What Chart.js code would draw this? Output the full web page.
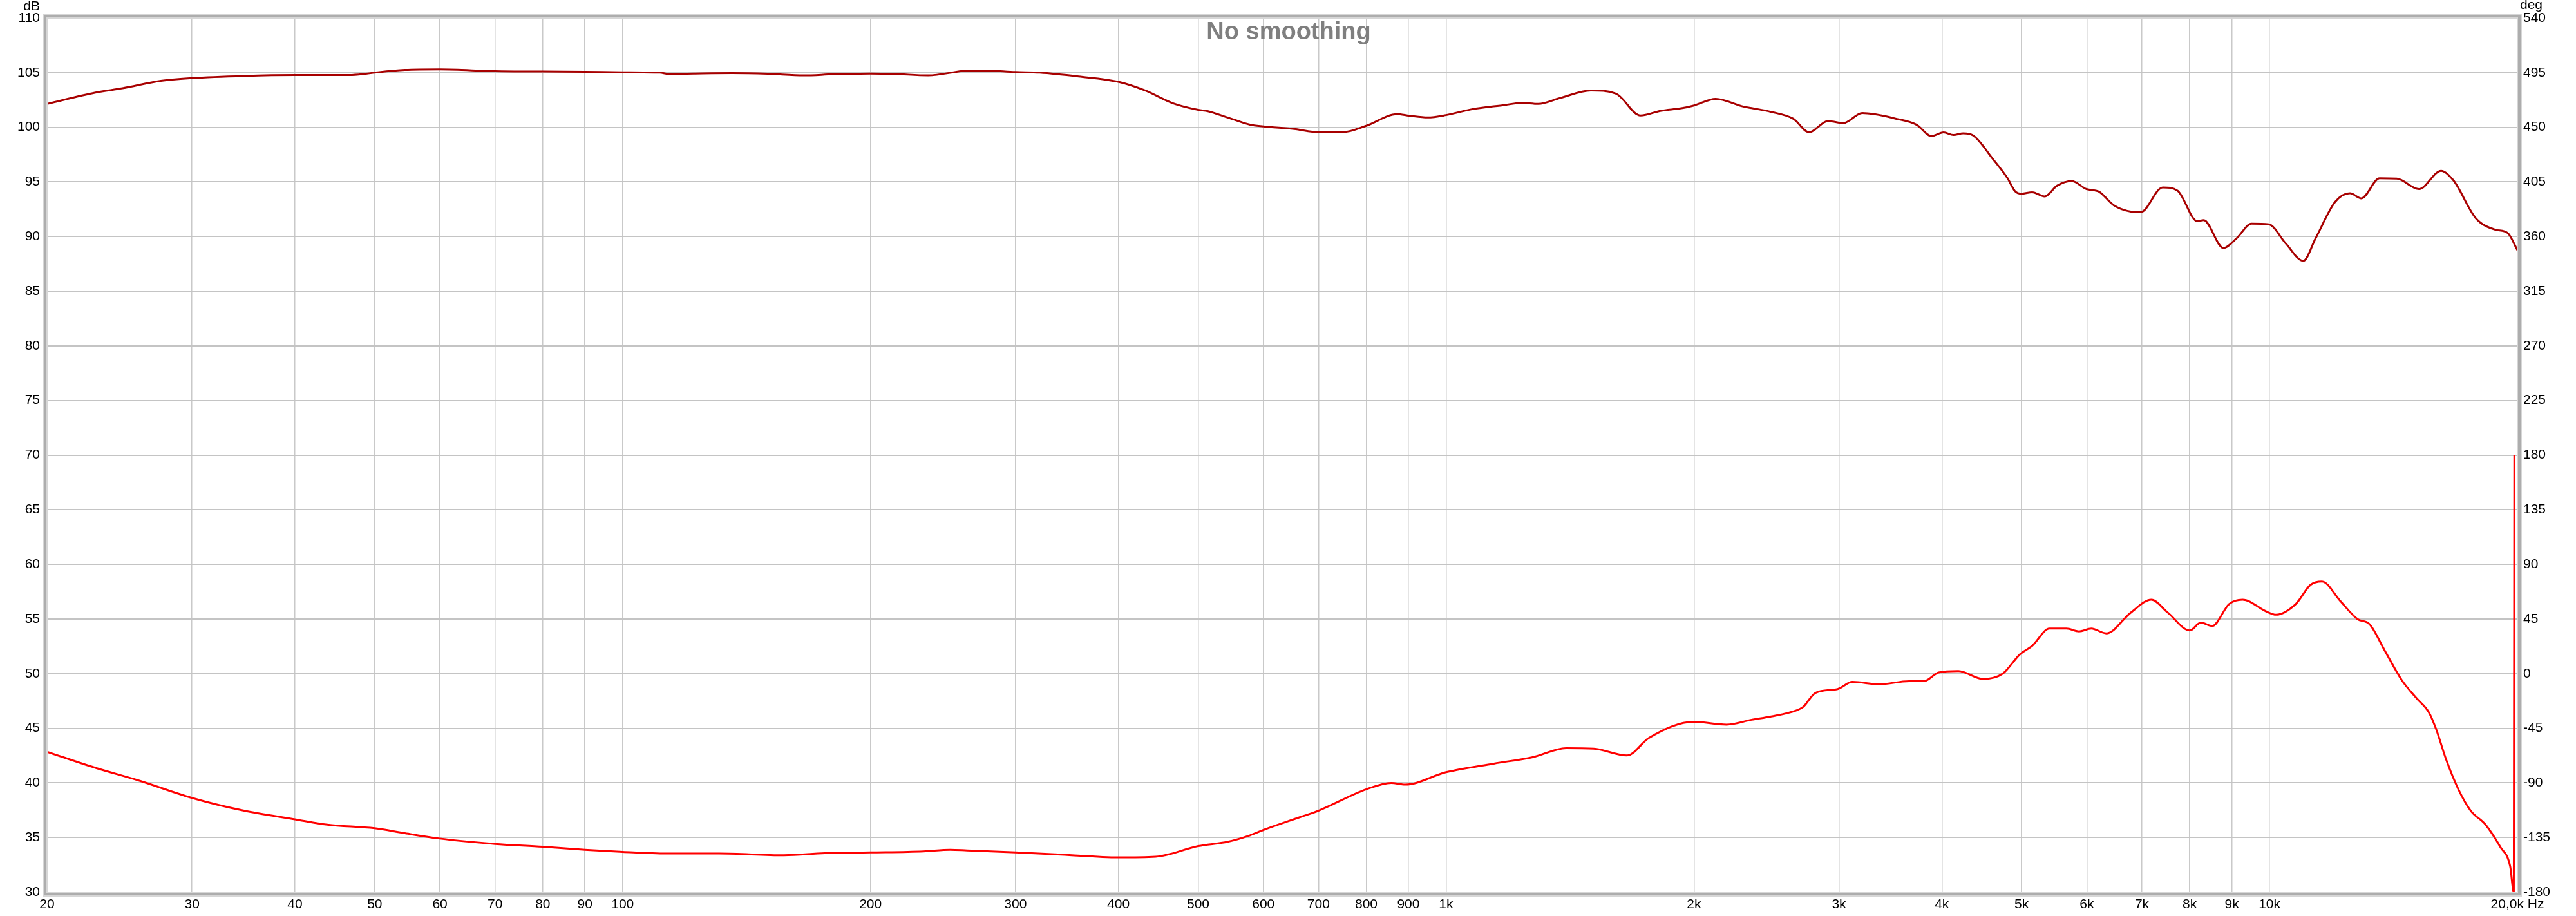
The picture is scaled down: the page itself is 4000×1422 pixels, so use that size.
<!DOCTYPE html>
<html>
<head>
<meta charset="utf-8">
<script src="https://cdn.jsdelivr.net/npm/chart.js@4/dist/chart.umd.min.js"></script>
<style>
html,body{margin:0;padding:0;background:#fff;}
#wrap{width:4000px;height:1422px;}
</style>
</head>
<body>
<div id="wrap"><canvas id="c" width="4000" height="1422"></canvas></div>
<script>
const chartTitle = "No smoothing";
const leftUnit = "dB";
const rightUnit = "deg";

const magFreq = [20,22.9,24.7,27.5,30,34.7,40,46.6,48.8,50,54.4,60,70,80,90,100,111,113.6,122,135.8,150,166,180,200,214,235,262,275,300,321,358,400,431,466,500,514,543,578,600,654,700,752,800,872,902,950,1000,1075,1179,1235,1294,1377,1499,1608,1723,1820,1936,2001,2125,2296,2350,2482,2641,2760,2908,3039,3202,3314,3503,3727,3884,4020,4133,4247,4366,4614,4808,4908,5000,5150,5332,5520,5752,5994,6204,6466,6786,6976,7420,7732,8172,8318,8790,9122,9508,9978,10470,10990,11376,12018,12524,12926,13604,14276,15188,16160,16726,17796,18804,19460,20000];
const magDb = [102.14,103.18,103.57,104.25,104.5,104.7,104.78,104.78,104.9,105.0,105.25,105.3,105.14,105.1,105.08,105.04,105.0,104.88,104.92,104.96,104.9,104.75,104.85,104.92,104.88,104.75,105.18,105.2,105.06,105.0,104.65,104.16,103.37,102.2,101.6,101.47,100.9,100.24,100.08,99.84,99.55,99.57,100.14,101.2,101.06,100.9,101.12,101.65,102.04,102.24,102.14,102.69,103.37,103.08,101.08,101.5,101.76,102.0,102.6,101.9,101.76,101.41,100.78,99.55,100.57,100.39,101.31,101.2,100.82,100.24,99.2,99.53,99.3,99.45,99.25,97.1,95.33,94.16,93.92,94.06,93.67,94.65,95.08,94.35,94.12,92.88,92.29,92.24,94.5,94.2,91.41,91.5,88.96,89.84,91.18,91.12,89.35,87.78,89.84,93.18,93.96,93.5,95.33,95.3,94.35,96.02,95.14,91.7,90.63,90.33,88.76];

const phaseFreq = [20,22.9,25.9,30,34.7,40,43.8,50,54.4,60,70,80,90,100,113,131,157,176,200,232,250,262,300,341,400,444,500,543,578,600,665,700,800,858,892,1000,1143,1274,1399,1511,1659,1764,2001,2191,2350,2482,2660,2715,2810,2989,3115,3361,3650,3806,3964,4189,4488,4743,4976,5150,5406,5671,5870,6076,6335,6786,7187,7523,8004,8251,8516,8935,9274,9909,10185,10765,11218,11580,12183,12785,13232,13792,14473,15083,15612,15938,16384,16958,17552,18297,19071,19601,19800,19830];
const phaseDeg = [-64.4,-77.6,-88.2,-102.4,-112.9,-120,-124.4,-127.4,-131.5,-135.9,-140.3,-142.6,-145.1,-146.8,-148.2,-148.2,-149.6,-147.9,-147.3,-146.4,-145.1,-145.6,-147.3,-149.1,-151.4,-150.8,-142.1,-138.5,-133.2,-128.8,-118.2,-112.9,-95.3,-90,-91.4,-81.2,-74.1,-68.8,-61.4,-61.8,-67.4,-52.9,-39.7,-42,-38,-35.3,-30.4,-27.4,-15.8,-12.7,-6.8,-8.8,-6.2,-6.2,0.9,2.1,-4.4,0,15.9,22.9,37.1,37.1,34.8,37.1,33.2,50.3,60.9,50.3,35.6,42,39.2,57.4,60.9,51.2,48.5,57.4,73.2,75.9,60,45,40.6,19.4,-5.3,-20.2,-31.8,-45.9,-70.6,-95.3,-112.9,-124.4,-142.9,-158.8,-180,180];

const xTickValues = [20,30,40,50,60,70,80,90,100,200,300,400,500,600,700,800,900,1000,2000,3000,4000,5000,6000,7000,8000,9000,10000,20000];
const xTickLabels = ["20","30","40","50","60","70","80","90","100","200","300","400","500","600","700","800","900","1k","2k","3k","4k","5k","6k","7k","8k","9k","10k","20,0k Hz"];

const dbMin = 30, dbMax = 110, dbStep = 5;
const degMin = -180, degMax = 540, degStep = 45;

const FONT = "'Liberation Sans', Arial, sans-serif";
const TICK_SIZE = 21;

const magData = magFreq.map((f, i) => ({x: f, y: magDb[i]}));
const phaseData = phaseFreq.map((f, i) => ({x: f, y: phaseDeg[i]}));

const decorPlugin = {
  id: 'decor',
  beforeDraw(chart) {
    const ctx = chart.ctx;
    ctx.save();
    ctx.fillStyle = '#ffffff';
    ctx.fillRect(0, 0, chart.width, chart.height);
    ctx.restore();
  },
  afterDraw(chart) {
    const ctx = chart.ctx;
    const a = chart.chartArea;
    ctx.save();
    ctx.strokeStyle = '#d6d6d6';
    ctx.lineWidth = 8;
    ctx.strokeRect(a.left - 3, a.top - 3, a.right - a.left + 6, a.bottom - a.top + 6);
    ctx.strokeStyle = '#adadad';
    ctx.lineWidth = 4;
    ctx.strokeRect(a.left - 3, a.top - 3, a.right - a.left + 6, a.bottom - a.top + 6);
    ctx.fillStyle = '#7f7f7f';
    ctx.font = "bold 38px " + FONT;
    ctx.textAlign = 'center';
    ctx.textBaseline = 'alphabetic';
    ctx.fillText(chartTitle, 2001, 61);
    ctx.fillStyle = '#000';
    ctx.font = TICK_SIZE + "px " + FONT;
    ctx.textAlign = 'right';
    ctx.fillText(leftUnit, 62, 16);
    ctx.textAlign = 'left';
    ctx.fillText(rightUnit, 3913, 14);
    ctx.restore();
  }
};

new Chart(document.getElementById('c'), {
  type: 'line',
  data: {
    datasets: [
      {label: 'Magnitude', data: magData, yAxisID: 'y', borderColor: '#a80000', borderWidth: 3, pointRadius: 0, cubicInterpolationMode: 'monotone', fill: false},
      {label: 'Phase', data: phaseData, yAxisID: 'y1', borderColor: '#ff0000', borderWidth: 3, pointRadius: 0, cubicInterpolationMode: 'monotone', fill: false}
    ]
  },
  options: {
    responsive: false,
    animation: false,
    layout: {padding: {top: 28, left: 0, right: 0, bottom: 0}},
    plugins: {legend: {display: false}, tooltip: {enabled: false}, title: {display: false}},
    scales: {
      x: {
        type: 'logarithmic', min: 20, max: 20000,
        afterBuildTicks: s => { s.ticks = xTickValues.map(v => ({value: v})); },
        afterFit: s => { s.height = 37; },
        ticks: {autoSkip: false, maxRotation: 0, minRotation: 0, padding: 7, color: '#000',
          font: {family: FONT, size: TICK_SIZE},
          callback: (v, i) => xTickLabels[i]},
        grid: {color: '#c9c9c9', lineWidth: 1.5, drawTicks: false},
        border: {display: false}
      },
      y: {
        position: 'left', min: dbMin, max: dbMax,
        afterFit: s => { s.width = 73; },
        ticks: {stepSize: dbStep, padding: 11, color: '#000', font: {family: FONT, size: TICK_SIZE}},
        grid: {color: '#c4c4c4', lineWidth: 2, drawTicks: false},
        border: {display: false}
      },
      y1: {
        position: 'right', min: degMin, max: degMax,
        afterFit: s => { s.width = 91; },
        ticks: {stepSize: degStep, padding: 9, color: '#000', font: {family: FONT, size: TICK_SIZE}},
        grid: {display: false, drawTicks: false},
        border: {display: false}
      }
    }
  },
  plugins: [decorPlugin]
});
</script>
</body>
</html>
